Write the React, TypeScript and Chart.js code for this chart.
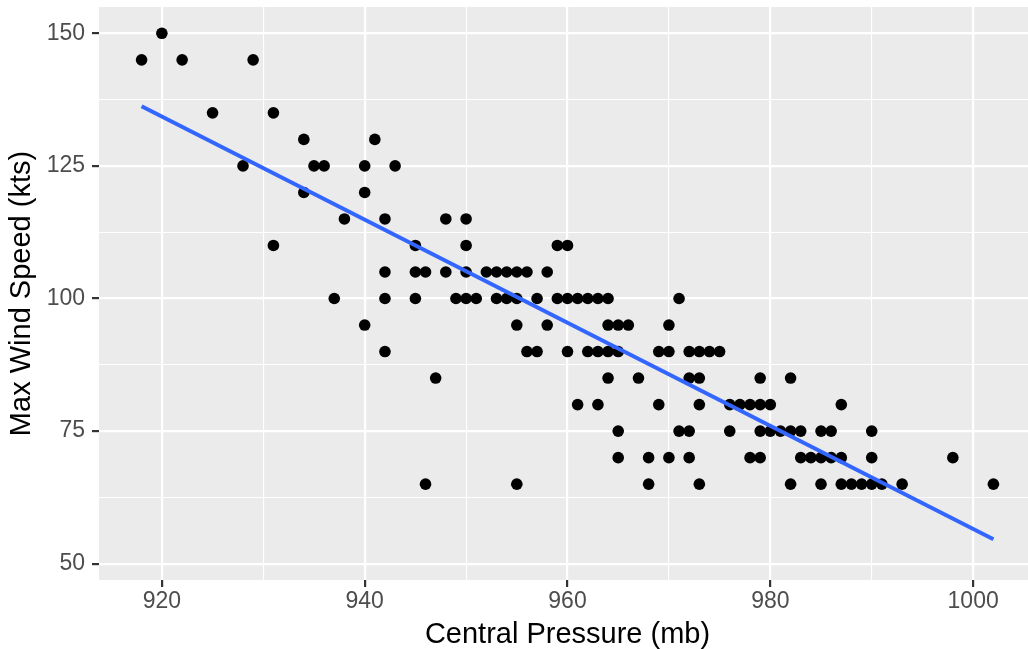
import React, { useEffect, useRef } from "react";
import { Chart, registerables } from "chart.js";

Chart.register(...registerables);

// Central pressure (mb) and max wind speed (kts)
const pressure: number[] = [
  920,
  918, 922, 929,
  925, 931,
  934, 941,
  928, 935, 936, 940, 943,
  934, 940,
  938, 942, 948, 950,
  931, 945, 950, 959, 960,
  942, 945, 946, 948, 950, 952, 953, 954, 955, 956, 958,
  937, 942, 945, 949, 950, 951, 953, 954, 955, 957, 959, 960, 961, 962, 963, 964, 971,
  940, 955, 958, 964, 965, 966, 970,
  942, 956, 957, 960, 962, 963, 964, 965, 969, 970, 972, 973, 974, 975,
  947, 964, 967, 972, 973, 979, 982,
  961, 963, 969, 973, 976, 977, 978, 979, 980, 987,
  965, 971, 972, 976, 979, 980, 981, 982, 983, 985, 986, 990,
  965, 968, 970, 972, 978, 979, 983, 984, 985, 986, 987, 990, 998,
  946, 955, 968, 973, 982, 985, 987, 988, 989, 990, 991, 993, 1002,
];

const windSpeed: number[] = [
  150,
  145, 145, 145,
  135, 135,
  130, 130,
  125, 125, 125, 125, 125,
  120, 120,
  115, 115, 115, 115,
  110, 110, 110, 110, 110,
  105, 105, 105, 105, 105, 105, 105, 105, 105, 105, 105,
  100, 100, 100, 100, 100, 100, 100, 100, 100, 100, 100, 100, 100, 100, 100, 100, 100,
  95, 95, 95, 95, 95, 95, 95,
  90, 90, 90, 90, 90, 90, 90, 90, 90, 90, 90, 90, 90, 90,
  85, 85, 85, 85, 85, 85, 85,
  80, 80, 80, 80, 80, 80, 80, 80, 80, 80,
  75, 75, 75, 75, 75, 75, 75, 75, 75, 75, 75, 75,
  70, 70, 70, 70, 70, 70, 70, 70, 70, 70, 70, 70, 70,
  65, 65, 65, 65, 65, 65, 65, 65, 65, 65, 65, 65, 65,
];

// Fitted linear trend, endpoints
const fitPressure: number[] = [918, 1002];
const fitWind: number[] = [136.24, 54.6];

// Axis ticks (major + minor grid positions)
const xTicks: number[] = [920, 930, 940, 950, 960, 970, 980, 990, 1000];
const xMajor: number[] = [920, 940, 960, 980, 1000];
const yTicks: number[] = [50, 62.5, 75, 87.5, 100, 112.5, 125, 137.5, 150];
const yMajor: number[] = [50, 75, 100, 125, 150];

const xTitle = "Central Pressure (mb)";
const yTitle = "Max Wind Speed (kts)";

const FONT = "'Liberation Sans', Arial, Helvetica, sans-serif";

// The original figure is slightly wider than the visible window (panel runs past the right edge)
const CANVAS_W = 1036;
const CANVAS_H = 649;

export default function App() {
  const ref = useRef<HTMLCanvasElement | null>(null);

  useEffect(() => {
    document.body.style.margin = "0";
    const canvas = ref.current;
    if (!canvas) return;

    const panelBg = {
      id: "panelBg",
      beforeDraw(chart: any) {
        const { ctx, chartArea } = chart;
        ctx.save();
        ctx.fillStyle = "#EBEBEB";
        ctx.fillRect(chartArea.left, chartArea.top, chartArea.right - chartArea.left, chartArea.bottom - chartArea.top);
        ctx.restore();
      },
    };

    const isMajor = (list: number[]) => (c: any) => !!c.tick && list.includes(c.tick.value);

    const chart = new Chart(canvas, {
      type: "scatter",
      data: {
        datasets: [
          {
            label: "fit",
            data: fitPressure.map((p, i) => ({ x: p, y: fitWind[i] })),
            showLine: true,
            borderColor: "#3366FF",
            borderWidth: 4,
            pointRadius: 0,
            fill: false,
          } as any,
          {
            label: "storms",
            data: pressure.map((p, i) => ({ x: p, y: windSpeed[i] })),
            pointRadius: 5.8,
            pointBackgroundColor: "#000000",
            pointBorderWidth: 0,
            backgroundColor: "#000000",
            borderColor: "#000000",
          },
        ],
      },
      options: {
        animation: false,
        responsive: false,
        events: [],
        layout: { autoPadding: false, padding: { top: 7, right: 0, left: 0, bottom: 0 } },
        plugins: { legend: { display: false }, tooltip: { enabled: false } },
        scales: {
          x: {
            type: "linear",
            min: 913.8,
            max: 1006.2,
            afterBuildTicks: (s: any) => {
              s.ticks = xTicks.map((v) => ({ value: v }));
            },
            afterFit: (s: any) => {
              s.height = 69;
              s.paddingLeft = 0;
              s.paddingRight = 0;
            },
            ticks: {
              autoSkip: false,
              maxRotation: 0,
              padding: 1,
              color: "#4D4D4D",
              font: { family: FONT, size: 23 },
              callback: (v: any) => (xMajor.includes(Number(v)) ? String(v) : ""),
            },
            grid: {
              color: "#FFFFFF",
              lineWidth: (c: any) => (isMajor(xMajor)(c) ? 2.2 : 1.1),
              tickColor: (c: any) => (isMajor(xMajor)(c) ? "#333333" : "rgba(0,0,0,0)"),
              tickWidth: 2.2,
              tickLength: 7,
            },
            border: { display: false },
            title: {
              display: true,
              text: xTitle,
              color: "#000000",
              font: { family: FONT, size: 29, lineHeight: 1 },
              padding: { top: 0, bottom: -0.5 },
            },
          },
          y: {
            type: "linear",
            min: 46.93,
            max: 154.96,
            afterBuildTicks: (s: any) => {
              s.ticks = yTicks.map((v) => ({ value: v }));
            },
            afterFit: (s: any) => {
              s.width = 99;
              s.paddingTop = 0;
              s.paddingBottom = 0;
            },
            ticks: {
              autoSkip: false,
              padding: 7,
              color: "#4D4D4D",
              font: { family: FONT, size: 23 },
              callback: (v: any) => (yMajor.includes(Number(v)) ? String(v) : ""),
            },
            grid: {
              color: "#FFFFFF",
              lineWidth: (c: any) => (isMajor(yMajor)(c) ? 2.2 : 1.1),
              tickColor: (c: any) => (isMajor(yMajor)(c) ? "#333333" : "rgba(0,0,0,0)"),
              tickWidth: 2.2,
              tickLength: 7,
            },
            border: { display: false },
            title: {
              display: true,
              text: yTitle,
              color: "#000000",
              font: { family: FONT, size: 29, lineHeight: 1 },
              padding: { top: 7, bottom: 0 },
            },
          },
        },
      },
      plugins: [panelBg],
    } as any);

    return () => chart.destroy();
  }, []);

  return (
    <div
      style={{
        position: "fixed",
        left: 0,
        top: 0,
        width: 1028,
        height: 649,
        overflow: "hidden",
        background: "#FFFFFF",
      }}
    >
      <canvas
        ref={ref}
        width={CANVAS_W}
        height={CANVAS_H}
        style={{ width: CANVAS_W, height: CANVAS_H, display: "block" }}
      />
    </div>
  );
}
